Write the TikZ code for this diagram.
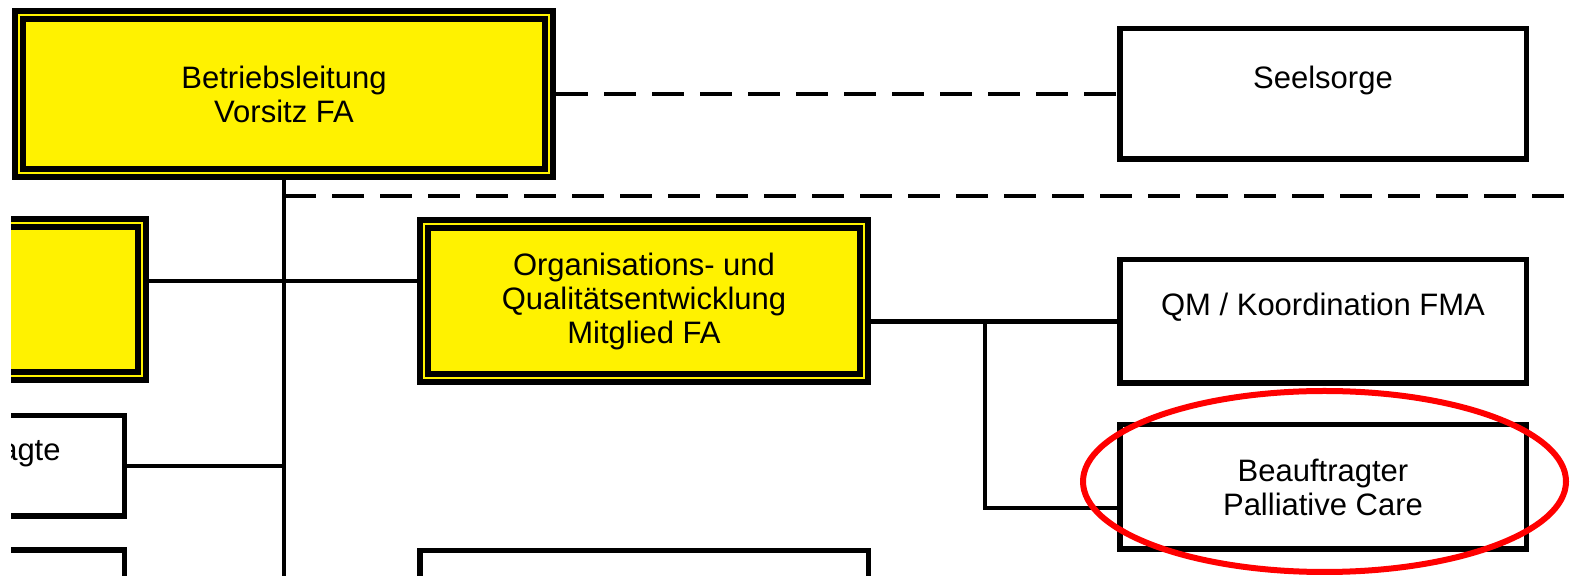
\documentclass[tikz,border=0pt]{standalone}
\usepackage{fontspec}
\setmainfont{Liberation Sans}
\usepackage{tikz}
\usetikzlibrary{positioning}

\begin{document}
\begin{tikzpicture}[x=0.5pt, y=-0.5pt,
        unitbox/.style={draw, rectangle, line width=2.75pt, fill=white, inner sep=0pt, outer sep=1.375pt, align=center, font=\fontsize{15.5pt}{17pt}\selectfont},
        leadbox/.style={unitbox, line width=3pt, double=yellow, double distance=1pt, fill=yellow, outer sep=3.5pt},
        solidline/.style={line width=2.25pt},
        dashline/.style={line width=2pt, dash pattern=on 16pt off 8pt}]
        \useasboundingbox (0,0) rectangle (1570,576);
        \clip (11,0) rectangle (1570,576);
        \node[leadbox, minimum width=265pt, minimum height=79pt] (BL) at (284,94) {Betriebsleitung\\Vorsitz FA};
        \node[unitbox, minimum width=203.25pt, minimum height=65.25pt] (SS) at (1323,94) {Seelsorge\\~};
        \node[leadbox, minimum width=142.5pt, minimum height=76.5pt] (ST) at (-0.5,299.5) {};
        \node[leadbox, minimum width=220pt, minimum height=77pt] (OQ) at (644,301) {Organisations- und\\Qualitätsentwicklung\\Mitglied FA};
        \node[unitbox, minimum width=203.25pt, minimum height=61.75pt, below=47.5pt of SS] (QM) {QM / Koordination FMA\\~};
        \node[unitbox, minimum width=203.25pt, minimum height=62.25pt, below=18pt of QM] (PC) {Beauftragter\\Palliative Care};
        \node[unitbox, minimum width=135.75pt, minimum height=50.25pt] (AG) at (-11.5,466) {};
        \node[anchor=base east, inner sep=0pt, font=\fontsize{15.5pt}{17pt}\selectfont] (AGT) at (61,461) {agte};
        \node[unitbox, minimum width=135.75pt, minimum height=50pt] (UL) at (-11.5,600) {};
        \node[unitbox, minimum width=224.25pt, minimum height=50pt] (UM) at (644,600.75) {};
        \coordinate (TE) at (284,590);
        \coordinate (DE) at (1580,196);
        \coordinate (BR) at (985,321.5);
        \draw[dashline] (BL.east) -- (SS.west);
        \draw[solidline] (BL.south) -- (TE);
        \draw[dashline] (BL.south |- DE) -- (DE);
        \draw[solidline] ([yshift=9.25pt]ST.east) -- ([yshift=9.25pt]ST.east -| OQ.west);
        \draw[solidline] (OQ.east |- QM.west) -- (QM.west);
        \draw[solidline] (BR) |- ([yshift=-10.5pt]PC.west);
        \draw[solidline] (AG.east) -- (AG.east -| BL.south);
        % marking
        \draw[red, line width=3pt] (1324.5,481.5) ellipse [x radius=120.75pt, y radius=45.25pt];
    \end{tikzpicture}
\end{document}
